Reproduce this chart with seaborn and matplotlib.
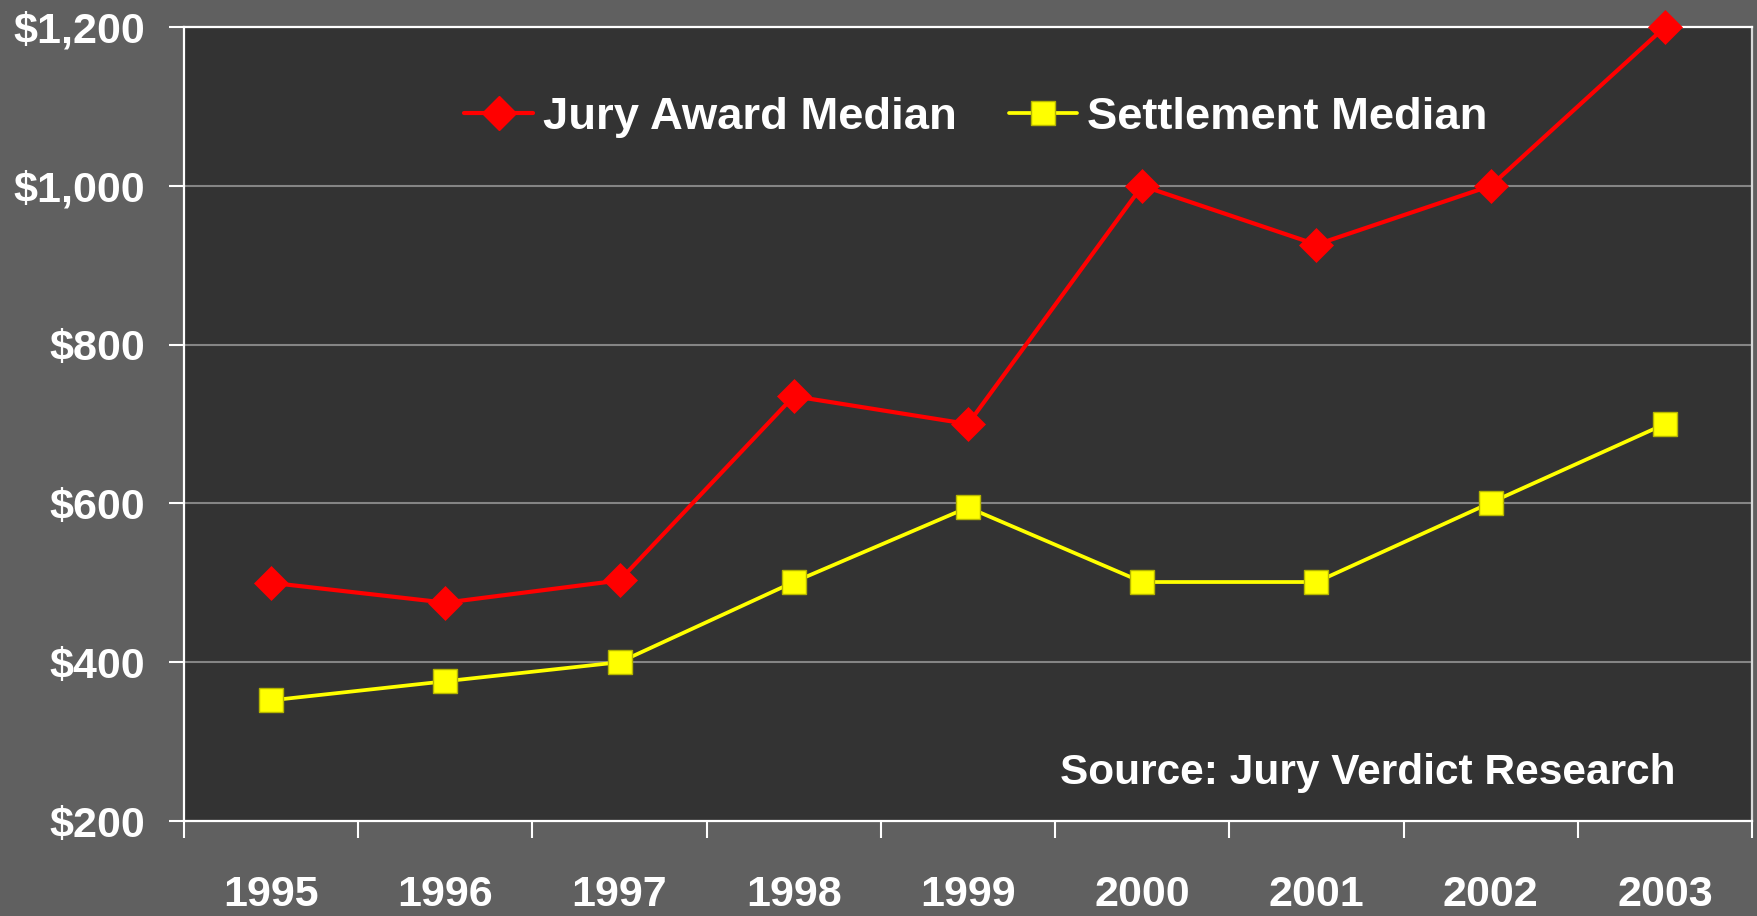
import matplotlib
matplotlib.use("Agg")
import numpy as np
import pandas as pd
import seaborn as sns
import matplotlib.pyplot as plt
from matplotlib.lines import Line2D

# ---- data ----
years = [1995, 1996, 1997, 1998, 1999, 2000, 2001, 2002, 2003]
jury_award_median = [500, 475, 503, 735, 700, 1000, 926, 1000, 1200]
settlement_median = [352, 376, 400, 501, 595, 501, 501, 601, 700]
series_names = ["Jury Award Median", "Settlement Median"]
y_ticks = [200, 400, 600, 800, 1000, 1200]
y_tick_labels = ["$200", "$400", "$600", "$800", "$1,000", "$1,200"]
source_text = "Source: Jury Verdict Research"

sns.set_theme(style="dark")
plt.rcParams["font.family"] = ["Liberation Sans", "DejaVu Sans"]
plt.rcParams["font.weight"] = "bold"

FIG_BG = "#606060"
AX_BG = "#333333"
RED = "#ff0000"
YELLOW = "#ffff00"
YEDGE = "#b5b500"

fig = plt.figure(figsize=(17.57, 9.16), dpi=100, facecolor=FIG_BG)
ax = fig.add_axes([0.1047, 0.1037, 0.8925, 0.8668])
ax.set_facecolor(AX_BG)

df_jury = pd.DataFrame({"Year": years, "Value": jury_award_median})
df_set = pd.DataFrame({"Year": years, "Value": settlement_median})

sns.lineplot(data=df_jury, x="Year", y="Value", ax=ax, color=RED, linewidth=3.0,
             marker="D", markersize=17, markeredgecolor=RED, markeredgewidth=0.5,
             clip_on=False, zorder=4)
sns.lineplot(data=df_set, x="Year", y="Value", ax=ax, color=YELLOW, linewidth=2.7,
             marker="s", markersize=17, markeredgecolor=YEDGE, markeredgewidth=1.0,
             clip_on=False, zorder=3)

ax.set_xlim(years[0] - 0.5, years[-1] + 0.5)
ax.set_ylim(y_ticks[0], y_ticks[-1])
ax.set_xlabel("")
ax.set_ylabel("")

# x: labels at years (no tick marks), tick marks at category boundaries
ax.set_xticks(years)
ax.set_xticklabels([str(y) for y in years])
ax.set_xticks(np.arange(years[0] - 0.5, years[-1] + 1.0, 1.0), minor=True)
ax.tick_params(axis="x", which="major", length=0, pad=39, labelsize=31,
               labelcolor="white")
ax.tick_params(axis="x", which="minor", length=12, width=1.5, color="white",
               direction="out", bottom=True)

ax.set_yticks(y_ticks)
ax.set_yticklabels(y_tick_labels)
ax.tick_params(axis="y", which="major", length=11, width=1.5, color="white",
               direction="out", left=True, pad=17, labelsize=31, labelcolor="white")

ax.grid(False)
ax.yaxis.grid(True, color="#858585", linewidth=1.5)
ax.set_axisbelow(True)

for side in ["left", "bottom", "top"]:
    ax.spines[side].set_visible(True)
    ax.spines[side].set_color("white")
    ax.spines[side].set_linewidth(1.6)
ax.spines["right"].set_visible(True)
ax.spines["right"].set_color("#d8d8d8")
ax.spines["right"].set_linewidth(1.6)

handles = [
    Line2D([], [], color=RED, linewidth=3.0, marker="D", markersize=17,
           markeredgecolor=RED),
    Line2D([], [], color=YELLOW, linewidth=2.7, marker="s", markersize=17,
           markeredgecolor=YEDGE),
]
leg = ax.legend(handles, series_names, loc="center", bbox_to_anchor=(0.505, 0.886),
                ncol=2, frameon=False, fontsize=32.7, handlelength=1.5,
                handletextpad=0.22, columnspacing=1.15, labelcolor="white")
for t in leg.get_texts():
    t.set_fontweight("bold")

ax.text(0.951, 0.047, source_text, transform=ax.transAxes, ha="right",
        va="baseline", fontsize=30.5, color="white", fontweight="bold")

fig.savefig("out.png", dpi=100, facecolor=FIG_BG)
